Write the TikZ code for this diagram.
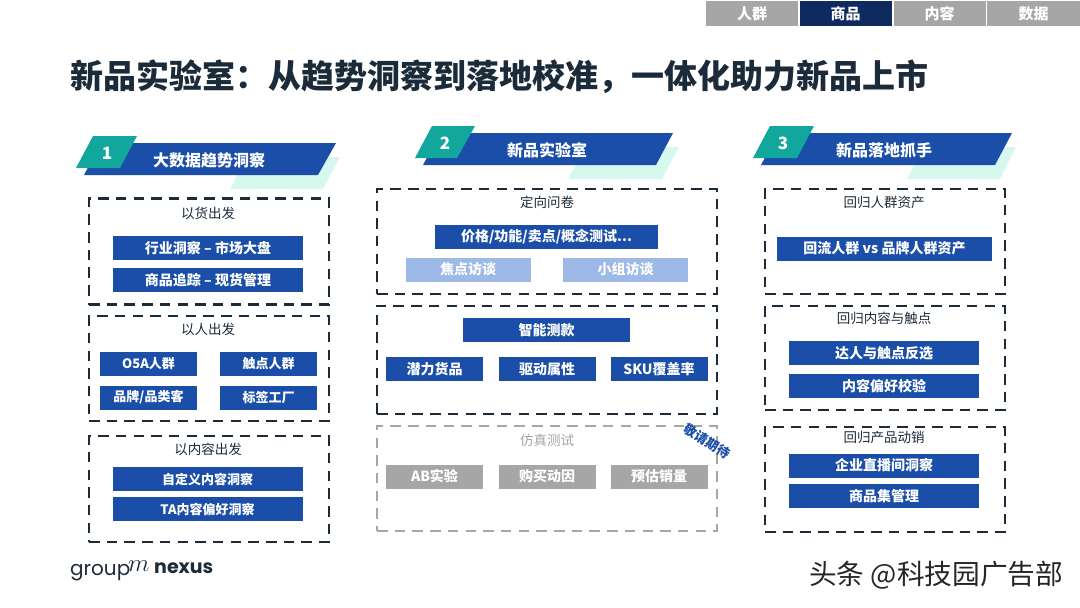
\documentclass[tikz,border=0pt]{standalone}
\usepackage{fontspec}
\setmainfont{Noto Sans CJK SC}
\newfontfamily\logofont{Poppins}
\usetikzlibrary{positioning}
\definecolor{barblue}{HTML}{1A4EA8}
\definecolor{tealtab}{HTML}{12A79C}
\definecolor{mintband}{HTML}{D6F8EF}
\definecolor{palebar}{HTML}{9DB9E8}
\definecolor{greybar}{HTML}{A6A6A6}
\definecolor{navytab}{HTML}{0E2A5E}
\definecolor{inkdark}{HTML}{1C2B3A}
\tikzset{
  dashbox/.style={draw=inkdark,line width=2.4,dash pattern=on 10.5 off 7.2,minimum width=240,inner sep=0},
  greydash/.style={dashbox,draw=greybar},
  barbox/.style={fill=barblue,text=white,font=\fontsize{14}{14}\selectfont\bfseries,minimum height=24,inner sep=0},
  smallbar/.style={barbox,font=\fontsize{13}{13}\selectfont\bfseries},
  palebox/.style={barbox,fill=palebar,minimum width=125},
  greybox/.style={barbox,fill=greybar,minimum width=97},
  tabbox/.style={fill=greybar,text=white,font=\fontsize{15}{15}\selectfont\bfseries,minimum width=92,minimum height=25,inner sep=0},
  boxtitle/.style={text=inkdark,font=\fontsize{13.5}{14}\selectfont,inner sep=0},
  bandtext/.style={text=white,font=\fontsize{16}{16}\selectfont\bfseries,inner sep=0},
  numtext/.style={text=white,font=\fontsize{17}{17}\selectfont\bfseries,inner sep=0},
}
\begin{document}
\begin{tikzpicture}[x=1pt,y=-1pt]
  \useasboundingbox (0,0) rectangle (1080,608);

  % tabs
  \node[tabbox] (tabpeople) at (752,13.5) {人群};
  \node[tabbox,fill=navytab] (tabgoods) at (845.5,13.5) {商品};
  \node[tabbox] (tabcontent) at (939.5,13.5) {内容};
  \node[tabbox,minimum width=93] (tabdata) at (1033.5,13.5) {数据};

  \node[text=inkdark,font=\fontsize{33}{33}\selectfont\bfseries,inner sep=0,anchor=west] (title) at (70,77)
    {新品实验室：从趋势洞察到落地校准，一体化助力新品上市};

  % bands
  \fill[mintband] (247,157) -- (340,157) -- (323,189) -- (230,189) -- cycle;
  \fill[barblue] (101,143) -- (336,143) -- (318,175) -- (84,175) -- cycle;
  \fill[tealtab] (93,136) -- (137,136) -- (120,168) -- (76,168) -- cycle;
  \fill[mintband] (585,147) -- (679,147) -- (662,179) -- (568,179) -- cycle;
  \fill[barblue] (440,133) -- (673,133) -- (656,165) -- (423,165) -- cycle;
  \fill[tealtab] (432,126) -- (475,126) -- (457,158) -- (415,158) -- cycle;
  \fill[mintband] (924,147) -- (1016,147) -- (1000,179) -- (907,179) -- cycle;
  \fill[barblue] (778,133) -- (1012,133) -- (995,165) -- (761,165) -- cycle;
  \fill[tealtab] (770,126) -- (814,126) -- (797,158) -- (753,158) -- cycle;

  \node[numtext] (num1) at (107,153) {1};
  \node[numtext] (num2) at (445,143) {2};
  \node[numtext] (num3) at (783,143) {3};
  \node[bandtext] (band1) at (209,160) {大数据趋势洞察};
  \node[bandtext] (band2) at (547,150) {新品实验室};
  \node[bandtext] (band3) at (884,150) {新品落地抓手};

  % first column
  \begin{scope}[every node/.append style={dashbox}]
    \node[minimum height=106] (goodsbox) at (209,251.5) {};
    \node[minimum height=105] (peoplebox) at (209,368.5) {};
    \node[minimum height=106] (contentbox) at (209,489) {};
  \end{scope}
  \node[boxtitle] (goodstitle) at (208,213) {以货出发};
  \node[boxtitle] (peopletitle) at (208,329) {以人出发};
  \node[boxtitle] (contenttitle) at (208,449) {以内容出发};
  \begin{scope}[every node/.append style={barbox,minimum width=190}]
    \node (trend) at (208,248) {行业洞察 – 市场大盘};
    \node (track) at (208,280) {商品追踪 – 现货管理};
  \end{scope}
  \begin{scope}[every node/.append style={smallbar,minimum width=190}]
    \node (custom) at (207.5,479) {自定义内容洞察};
    \node (prefer) at (207.5,509) {TA内容偏好洞察};
  \end{scope}
  \begin{scope}[every node/.append style={smallbar,minimum width=97}]
    \node (osa) at (148.5,364) {O5A人群};
    \node (touch) at (268.5,364) {触点人群};
    \node (brand) at (148.5,397.5) {品牌/品类客};
    \node (label) at (268.5,397.5) {标签工厂};
  \end{scope}

  % second column
  \node[dashbox,minimum width=340,minimum height=105] (surveybox) at (547,241.5) {};
  \node[dashbox,minimum width=340,minimum height=108] (testbox) at (547,360) {};
  \node[greydash,minimum width=340,minimum height=105] (simbox) at (547,478.5) {};
  \node[boxtitle] (surveytitle) at (547,202) {定向问卷};
  \node[boxtitle,text=greybar] (simtitle) at (547,440) {仿真测试};
  \node[barbox,minimum width=223] (concept) at (546.5,237) {价格/功能/卖点/概念测试...};
  \node[palebox] (focus) at (468,269.5) {焦点访谈};
  \node[palebox] (group) at (625.5,269.5) {小组访谈};
  \node[barbox,minimum width=167] (smart) at (546.5,330) {智能测款};
  \begin{scope}[every node/.append style={barbox,minimum width=97}]
    \node (potential) at (434.5,369) {潜力货品};
    \node (driver) at (547,369) {驱动属性};
    \node (sku) at (659,369) {SKU覆盖率};
  \end{scope}
  \node[greybox] (ab) at (434.5,476.5) {AB实验};
  \node[greybox] (motive) at (547,476.5) {购买动因};
  \node[greybox] (sales) at (659,476.5) {预估销量};
  \node[text=barblue,font=\fontsize{13}{13}\selectfont\bfseries,rotate=-32,inner sep=0] (soon) at (707,441) {敬请期待};

  % third column
  \begin{scope}[every node/.append style={dashbox}]
    \node[minimum height=105] (assetbox) at (885,241.5) {};
    \node[minimum height=104] (touchbox) at (885,358) {};
    \node[minimum height=105] (salebox) at (885,479.5) {};
  \end{scope}
  \node[boxtitle] (assettitle) at (884,202) {回归人群资产};
  \node[boxtitle] (touchtitle) at (884,318) {回归内容与触点};
  \node[boxtitle] (saletitle) at (884,437) {回归产品动销};
  \node[barbox,minimum width=215] (backflow) at (884.5,248.5) {回流人群 vs 品牌人群资产};
  \begin{scope}[every node/.append style={barbox,minimum width=190}]
    \node (talent) at (884,353) {达人与触点反选};
    \node (liking) at (884,386) {内容偏好校验};
    \node (live) at (884,465.5) {企业直播间洞察};
    \node (goodsset) at (884,496) {商品集管理};
  \end{scope}

  % logo and mark
  \node[text=inkdark,font=\logofont\fontsize{20}{20}\selectfont,inner sep=0,anchor=base west] (logogroup) at (70,575) {group};
  \node[text=inkdark,font=\fontsize{24}{24}\selectfont\itshape,inner sep=0,anchor=base west] (logom) at (128,571) {$m$};
  \node[text=inkdark,font=\logofont\fontsize{19}{19}\selectfont\bfseries,inner sep=0,anchor=base west] (logonexus) at (154,573.5) {nexus};
  \node[text=black!85,font=\fontsize{27.7}{28}\selectfont,inner sep=0,anchor=west] (mark) at (809,575) {头条 @科技园广告部};
\end{tikzpicture}
\end{document}
